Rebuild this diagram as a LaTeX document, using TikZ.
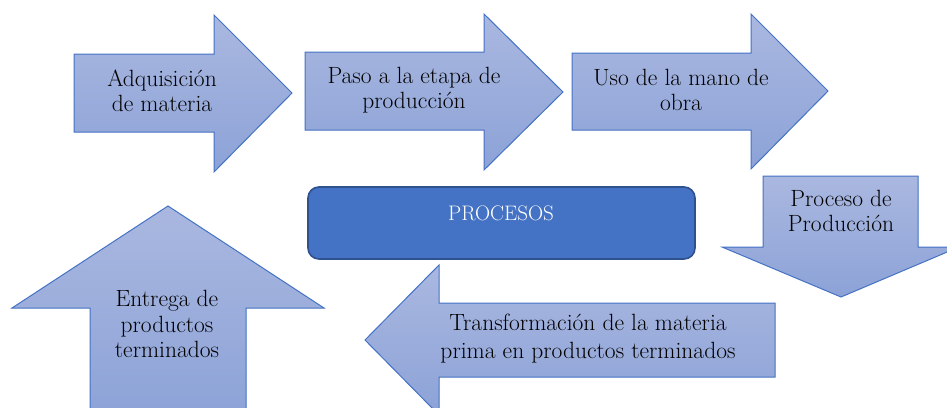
\documentclass[tikz,border=0pt]{standalone}
\usepackage{tikz}

\definecolor{flechaborde}{RGB}{68,114,196}
\definecolor{flechaclaro}{RGB}{170,184,224}
\definecolor{flechaoscuro}{RGB}{140,162,215}
\definecolor{cajafondo}{RGB}{68,114,196}
\definecolor{cajaborde}{RGB}{47,82,143}

\begin{document}
\begin{tikzpicture}[x=1pt, y=-1pt,
    flecha/.style = {draw=flechaborde, line width=1pt,
        top color=flechaclaro, bottom color=flechaoscuro},
    texto/.style = {align=center, inner sep=0pt,
        font=\fontsize{23.5}{25.5}\selectfont}]
\useasboundingbox (0,0) rectangle (947,407);
\fill[white] (0,0) rectangle (947,407);
\clip (0,0) rectangle (947,407);

% fila de arriba
\path[flecha] (74,54) -- (214,54) -- (214,15) -- (292,93)
    -- (214,172) -- (214,132) -- (74,132) -- cycle;
\path[flecha] (305,52) -- (484,52) -- (484,14) -- (563,92)
    -- (484,170) -- (484,130) -- (305,130) -- cycle;
\path[flecha] (572,53) -- (751,53) -- (751,14) -- (828,91)
    -- (751,169) -- (751,130) -- (572,130) -- cycle;
% bajada y vuelta
\path[flecha] (763,176) -- (918,176) -- (918,247) -- (959,247)
    -- (841,297) -- (722,247) -- (763,247) -- cycle;
\path[flecha] (775,303) -- (439,303) -- (439,265) -- (365,340)
    -- (439,415) -- (439,377) -- (775,377) -- cycle;
\path[flecha] (90,420) -- (90,308) -- (12,308) -- (168,206)
    -- (324,308) -- (246,308) -- (246,420) -- cycle;

\node[texto] (adquisicion) at (162,91) {Adquisición\\de materia};
\node[texto] (paso) at (414,90) {Paso a la etapa de\\producción};
\node[texto] (uso) at (681,90) {Uso de la mano de\\obra};
\node[texto] (produccion) at (841,211) {Proceso de\\Producción};
\node[texto, font=\fontsize{23.5}{28}\selectfont] (transformacion) at (588,339)
    {Transformación de la materia\\prima en productos terminados};
\node[texto] (entrega) at (167,324) {Entrega de\\productos\\terminados};

\node[draw=cajaborde, line width=1.6pt, fill=cajafondo, rounded corners=11pt,
    minimum width=387pt, minimum height=72pt] (procesos) at (501.5,223) {};
\node[texto, text=white, font=\fontsize{21}{25}\selectfont]
    (procesostxt) at (501,213) {PROCESOS};
\end{tikzpicture}
\end{document}
